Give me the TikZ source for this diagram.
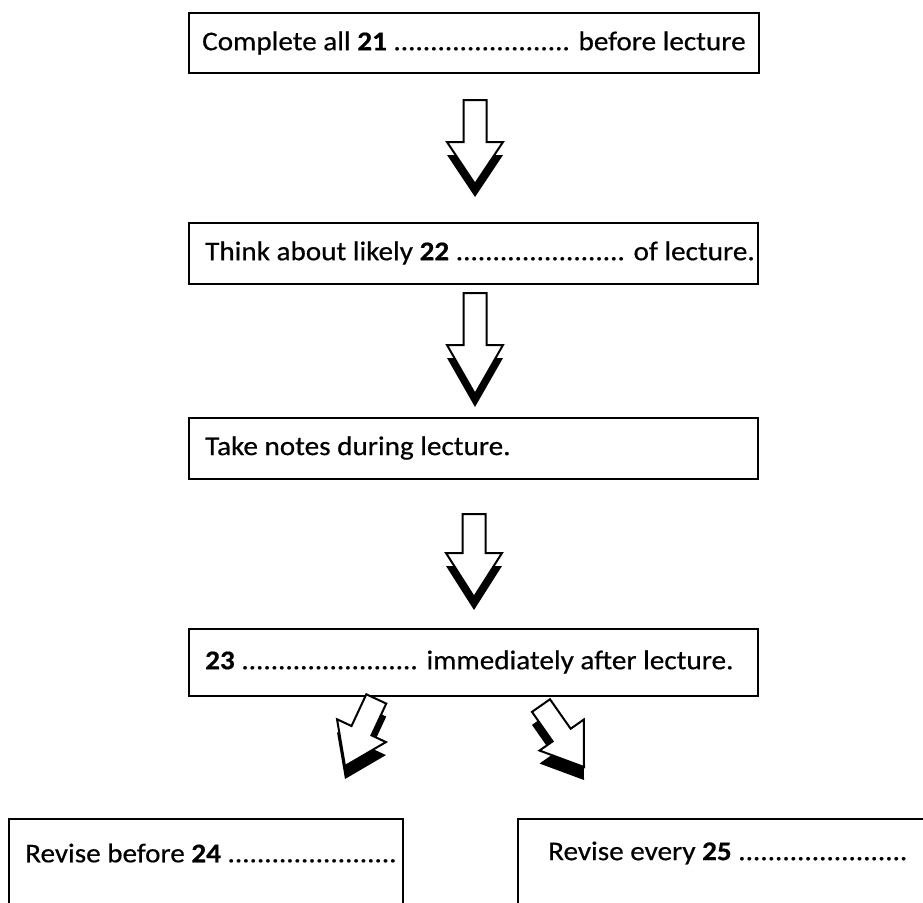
\documentclass[tikz,border=0pt]{standalone}
\usepackage{fontspec}
\setmainfont{Carlito}[FakeStretch=1.08,FakeBold=0.5]
\begin{document}
\begin{tikzpicture}[x=1pt,y=-1pt,
  box/.style={draw=black, line width=2.4pt, anchor=north west, inner sep=0pt},
  lbl/.style={anchor=west, inner sep=0pt, font=\fontsize{27}{31}\selectfont},
  arrline/.style={draw=black, line width=2pt, fill=white, line join=miter},
  arrshadow/.style={fill=black},
]
\clip (0,0) rectangle (923,902);
\fill[white] (0,0) rectangle (923,902);

% #1 tip x, #2 tip y, #3 angle, #4 total length, #5 head length, #6 shaft half width, #7 head half width
\newcommand{\blockarrow}[7]{%
  \begin{scope}[shift={(#1,#2+13)}, rotate=#3]
    \fill[arrshadow] (0,0) -- (#7,-#5) -- (#6,-#5) -- (#6,-#4) -- (-#6,-#4) -- (-#6,-#5) -- (-#7,-#5) -- cycle;
  \end{scope}
  \begin{scope}[shift={(#1,#2)}, rotate=#3]
    \draw[arrline] (0,0) -- (#7,-#5) -- (#6,-#5) -- (#6,-#4) -- (-#6,-#4) -- (-#6,-#5) -- (-#7,-#5) -- cycle;
  \end{scope}}

\node[box, minimum width=570pt, minimum height=60pt] (b1) at (188,12) {};
\node[lbl] (t1) at (202,43) {Complete all \textbf{21} ........................ before lecture};
\node[box, minimum width=569pt, minimum height=61pt] (b2) at (188,222) {};
\node[lbl] (t2) at (205,253) {Think about likely \textbf{22} ....................... of lecture.};
\node[box, minimum width=569pt, minimum height=61pt] (b3) at (188,417) {};
\node[lbl] (t3) at (205,448) {Take notes during lecture.};
\node[box, minimum width=569pt, minimum height=67pt] (b4) at (188,628) {};
\node[lbl] (t4) at (205,662) {\textbf{23} ........................ immediately after lecture.};

\node[box, minimum width=394pt, minimum height=150pt] (b5) at (8,818) {};
\node[box, minimum width=450pt, minimum height=150pt] (b6) at (517,818) {};
\node[lbl] (t5) at (25,853) {Revise before \textbf{24} .......................};
\node[lbl] (t6) at (548,853) {Revise every \textbf{25} .......................};

\blockarrow{475}{184}{0}{84}{42}{11.5}{28}
\blockarrow{475}{394}{0}{101}{49}{11.5}{28}
\blockarrow{474}{597}{0}{83}{44}{11.5}{28}
\blockarrow{345}{766}{-25}{74}{39}{11}{27}
\blockarrow{584}{767}{35}{75}{39}{11}{27}
\end{tikzpicture}
\end{document}
